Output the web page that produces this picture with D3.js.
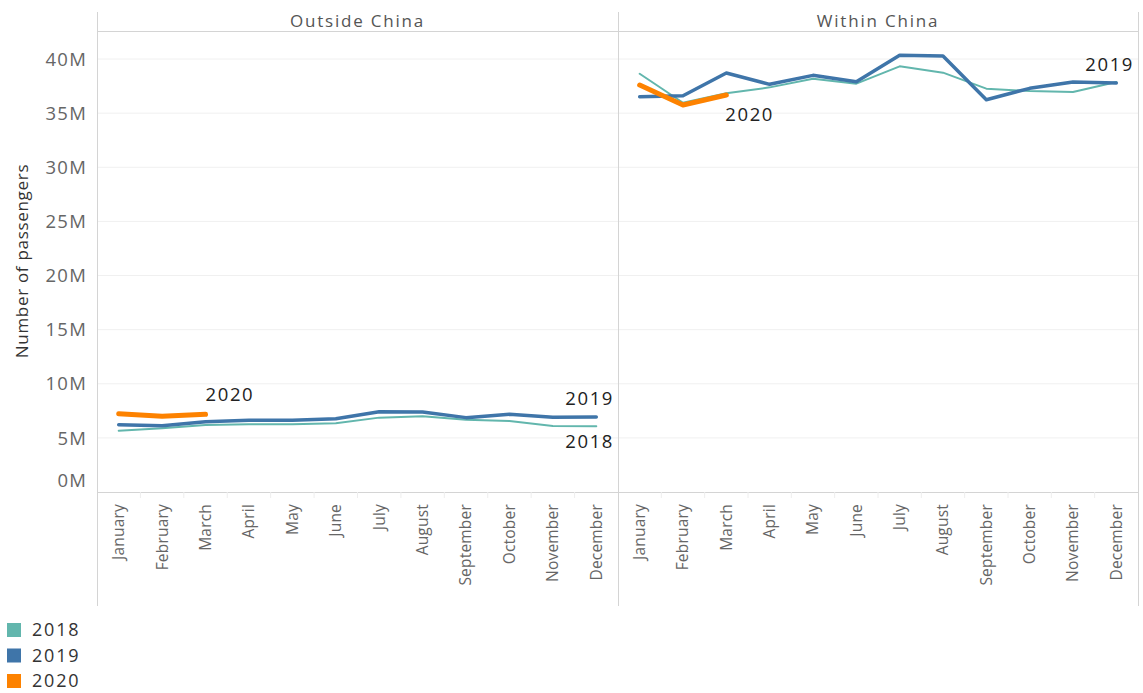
<!DOCTYPE html>
<html><head><meta charset="utf-8">
<script src="https://cdn.jsdelivr.net/npm/d3@7"></script>
<style>
body{margin:0;background:#fff;}
text{font-family:"Open Sans","Noto Sans",sans-serif;}
</style></head>
<body><svg id="c" width="1143" height="693"></svg>
<script>
const months = ["January","February","March","April","May","June","July","August","September","October","November","December"];
const panels = ["Outside China","Within China"];
const years = ["2018","2019","2020"];
const yTicks = [0,5,10,15,20,25,30,35,40];
// values in millions of passengers
const outside2018 = [5.66,5.9,6.2,6.25,6.25,6.35,6.87,7.0,6.68,6.56,6.1,6.07];
const outside2019 = [6.22,6.13,6.5,6.62,6.62,6.77,7.42,7.39,6.87,7.18,6.9,6.93];
const outside2020 = [7.23,6.99,7.18];
const within2018 = [38.64,35.96,36.83,37.38,38.18,37.72,39.32,38.74,37.26,37.04,36.95,37.88];
const within2019 = [36.52,36.61,38.71,37.66,38.49,37.9,40.34,40.28,36.24,37.29,37.88,37.78];
const within2020 = [37.6,35.75,36.67];

const colors = {"2018":"#62b6ad","2019":"#3f75a9","2020":"#fd8200"};
const widths = {"2018":2,"2019":3.5,"2020":5};
const seriesByPanel = [
  {"2018":outside2018,"2019":outside2019,"2020":outside2020},
  {"2018":within2018,"2019":within2019,"2020":within2020}
];

const svg = d3.select("#c");
const plotBottom = 492;
const panelX = [[97,618],[618,1138]];
const y = d3.scaleLinear().domain([0,40]).range([plotBottom, 59]);

// gridlines
yTicks.forEach(t=>{
  if(t===0) return;
  svg.append("line").attr("x1",97).attr("x2",1138).attr("y1",y(t)).attr("y2",y(t))
    .attr("stroke","#f0f0f0").attr("stroke-width",1);
});

// y axis labels
svg.append("g").selectAll("text").data(yTicks).join("text")
  .attr("x",87).attr("y",d=> d===0 ? y(d)-12 : y(d)).attr("dy","0.36em")
  .attr("text-anchor","end").attr("font-size",18.5).attr("fill","#666").attr("letter-spacing","1.2")
  .text(d=>d+"M");

svg.append("text").attr("transform","translate(28,261) rotate(-90)")
  .attr("text-anchor","middle").attr("font-size",17).attr("fill","#333").attr("letter-spacing","0.7")
  .text("Number of passengers");

// header line and separators
svg.append("line").attr("x1",97).attr("x2",1138).attr("y1",31.5).attr("y2",31.5).attr("stroke","#d4d4d4");
[97,618,1138].forEach(x=>{
  svg.append("line").attr("x1",x+0.5).attr("x2",x+0.5).attr("y1",12).attr("y2",606).attr("stroke","#d4d4d4");
});
svg.append("line").attr("x1",97).attr("x2",1138).attr("y1",plotBottom+0.5).attr("y2",plotBottom+0.5).attr("stroke","#d4d4d4");

panels.forEach((p,pi)=>{
  const [x0,x1] = panelX[pi];
  const x = d3.scaleBand().domain(months).range([x0,x1]);
  const xc = m => x(m)+x.bandwidth()/2;
  svg.append("text").attr("x",(x0+x1)/2).attr("y",21).attr("dy","0.35em")
    .attr("text-anchor","middle").attr("font-size",17).attr("fill","#555").attr("letter-spacing","1.8")
    .text(p);
  // x axis
  const ax = svg.append("g").attr("transform",`translate(0,${plotBottom})`)
    .call(d3.axisBottom(x).tickSize(0).tickPadding(0));
  ax.select(".domain").remove();
  ax.selectAll("text").attr("transform","rotate(-90)").attr("text-anchor","end")
    .attr("x",-12).attr("y",0).attr("dy","0.35em").attr("font-size",15.5).attr("fill","#666")
    .attr("letter-spacing","0.2")
    .attr("font-family","'Open Sans','Noto Sans',sans-serif");
  // small boundary ticks
  months.slice(1).forEach(m=>{
    svg.append("line").attr("x1",x(m)).attr("x2",x(m)).attr("y1",plotBottom).attr("y2",plotBottom+6).attr("stroke","#eee");
  });
  years.forEach(yr=>{
    svg.append("path").datum(seriesByPanel[pi][yr])
      .attr("d", d3.line().x((d,i)=>xc(months[i])).y(d=>y(d)))
      .attr("fill","none").attr("stroke",colors[yr]).attr("stroke-width",widths[yr])
      .attr("stroke-linejoin","round").attr("stroke-linecap","round");
  });
  // labels
  const s = seriesByPanel[pi];
  const lab = (txt,xx,yy)=> svg.append("text").attr("x",xx).attr("y",yy).attr("font-size",18.5)
    .attr("fill","#222").attr("letter-spacing","1.6").text(txt);
  if(pi===0){
    lab("2020", xc(months[2])+0, y(s["2020"][2])-13);
    lab("2019", xc(months[11])-31, y(s["2019"][11])-12);
    lab("2018", xc(months[11])-31, y(s["2018"][11])+22);
  } else {
    lab("2020", xc(months[2])-1, y(s["2020"][2])+26);
    lab("2019", xc(months[11])-31, y(s["2019"][11])-12);
  }
});

// legend
const lg = svg.append("g");
years.forEach((yr,i)=>{
  lg.append("rect").attr("x",7).attr("y",623+i*25.5).attr("width",14).attr("height",14).attr("fill",colors[yr]);
  lg.append("text").attr("x",32).attr("y",630+i*25.5).attr("dy","0.36em").attr("font-size",18)
    .attr("fill","#333").attr("letter-spacing","1.8").text(yr);
});
</script></body></html>
